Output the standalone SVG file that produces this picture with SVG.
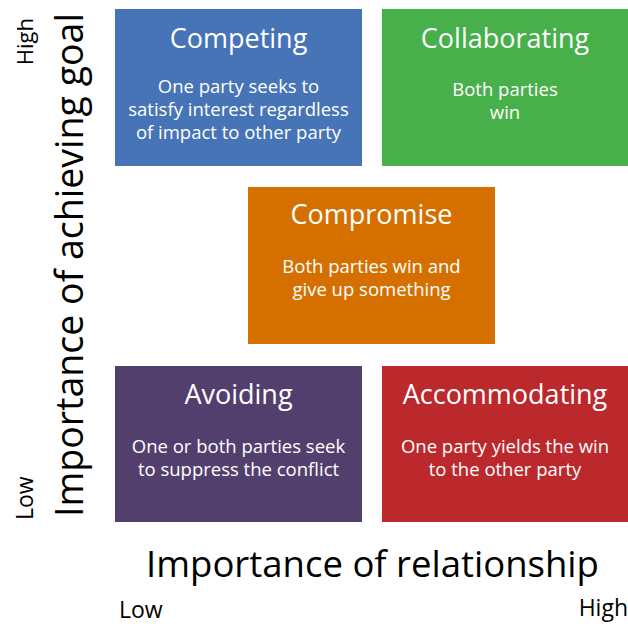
<svg xmlns="http://www.w3.org/2000/svg" width="628" height="627" viewBox="0 0 628 627">
<style>
.t{font-family:"Open Sans","Liberation Sans",sans-serif;fill:#fff;text-anchor:middle}
.h{font-size:27px}
.b{font-size:18.5px}
.ax{font-family:"Open Sans","Liberation Sans",sans-serif;fill:#000}
</style>
<rect width="628" height="627" fill="#fff"/>
<g id="competing">
<rect x="115" y="9" width="247" height="157" fill="#4674b6"/>
<text class="t h" x="238.5" y="48">Competing</text>
<text class="t b" x="238.5" y="93">One party seeks to</text>
<text class="t b" x="238.5" y="116">satisfy interest regardless</text>
<text class="t b" x="238.5" y="139">of impact to other party</text>
</g>
<g id="collaborating">
<rect x="382" y="9" width="246" height="157" fill="#48b04a"/>
<text class="t h" x="505" y="48">Collaborating</text>
<text class="t b" x="505" y="96">Both parties</text>
<text class="t b" x="505" y="119">win</text>
</g>
<g id="compromise">
<rect x="248" y="187" width="247" height="157" fill="#d57000"/>
<text class="t h" x="371.5" y="224">Compromise</text>
<text class="t b" x="371.5" y="273">Both parties win and</text>
<text class="t b" x="371.5" y="296">give up something</text>
</g>
<g id="avoiding">
<rect x="115" y="366" width="247" height="156" fill="#533f6e"/>
<text class="t h" x="238.5" y="404">Avoiding</text>
<text class="t b" x="238.5" y="453">One or both parties seek</text>
<text class="t b" x="238.5" y="476">to suppress the conflict</text>
</g>
<g id="accommodating">
<rect x="382" y="366" width="246" height="156" fill="#bc292d"/>
<text class="t h" x="505" y="404">Accommodating</text>
<text class="t b" x="505" y="453">One party yields the win</text>
<text class="t b" x="505" y="476">to the other party</text>
</g>
<g id="axes">
<text class="ax" font-size="37.5" text-anchor="middle" transform="translate(83,265) rotate(-90)">Importance of achieving goal</text>
<text class="ax" font-size="22" text-anchor="end" transform="translate(33,18) rotate(-90)">High</text>
<text class="ax" font-size="23" text-anchor="start" transform="translate(33,520) rotate(-90)">Low</text>
<text class="ax" font-size="36.5" text-anchor="middle" x="372.5" y="577">Importance of relationship</text>
<text class="ax" font-size="23" x="119" y="618">Low</text>
<text class="ax" font-size="23" text-anchor="end" x="628" y="616">High</text>
</g>
</svg>
